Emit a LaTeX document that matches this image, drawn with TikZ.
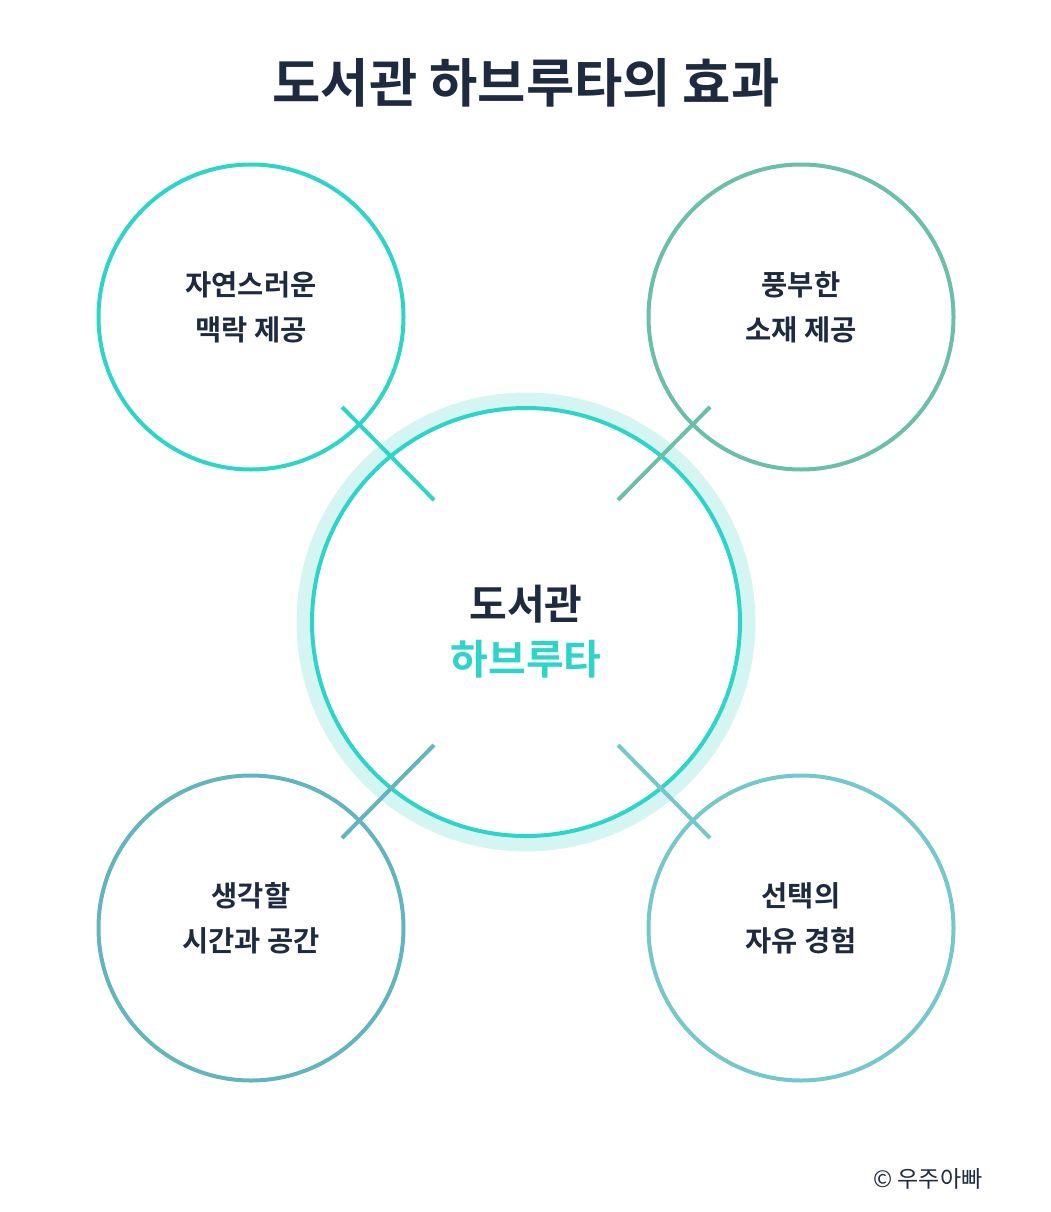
\documentclass[tikz,border=0pt]{standalone}
\usepackage{fontspec}
\setmainfont{Noto Sans CJK KR}
\newfontfamily\kb{Noto Sans CJK KR Bold}
\definecolor{navy}{HTML}{1E2A40}
\definecolor{cA}{HTML}{2DD4C8}
\definecolor{cB}{HTML}{6BBFA8}
\definecolor{cC}{HTML}{62B5BD}
\definecolor{cD}{HTML}{74C7CB}
\definecolor{halo}{HTML}{D4F5F2}
\tikzset{x=1pt,y=-1pt,
 ring/.style={circle,draw,line width=4pt,minimum size=305pt,inner sep=0pt},
 lbl/.style={align=center,text=navy,font=\fontsize{28.5}{45}\kb},
 tick/.style={line width=4pt}}
\begin{document}
\begin{tikzpicture}
\useasboundingbox (0,0) rectangle (1051,1212);
\node[text=navy,font=\fontsize{52.5}{60}\kb] (title) at (526,83) {도서관 하브루타의 효과};
\draw[halo,line width=15pt] (526,622) circle (222);
\node[circle,draw=cA,line width=4pt,minimum size=428pt,inner sep=0pt] (center) at (526,622) {};
\node[align=center,font=\fontsize{41}{55}\kb] (ctext) at (526,632) {\textcolor{navy}{도서관}\\\textcolor{cA}{하브루타}};
\node[ring,draw=cA] (tl) at (251,317) {};
\node[ring,draw=cB] (tr) at (801,317) {};
\node[ring,draw=cC] (bl) at (251,928) {};
\node[ring,draw=cD] (br) at (801,928) {};
\node[lbl] (tlt) at (251,307) {자연스러운\\맥락 제공};
\node[lbl] (trt) at (801,307) {풍부한\\소재 제공};
\node[lbl] (blt) at (251,918) {생각할\\시간과 공간};
\node[lbl] (brt) at (801,918) {선택의\\자유 경험};
\coordinate (a1) at (342,407); \coordinate (a2) at (434,500);
\coordinate (b1) at (710,407); \coordinate (b2) at (618,500);
\coordinate (c1) at (434,745); \coordinate (c2) at (342,838);
\coordinate (d1) at (618,745); \coordinate (d2) at (710,838);
\draw[tick,cA] (a1) -- (a2);
\draw[tick,cB] (b1) -- (b2);
\draw[tick,cC] (c1) -- (c2);
\draw[tick,cD] (d1) -- (d2);
\node[text=navy,font=\fontsize{23}{26}\selectfont] (copy) at (928,1179) {© 우주아빠};
\end{tikzpicture}
\end{document}
